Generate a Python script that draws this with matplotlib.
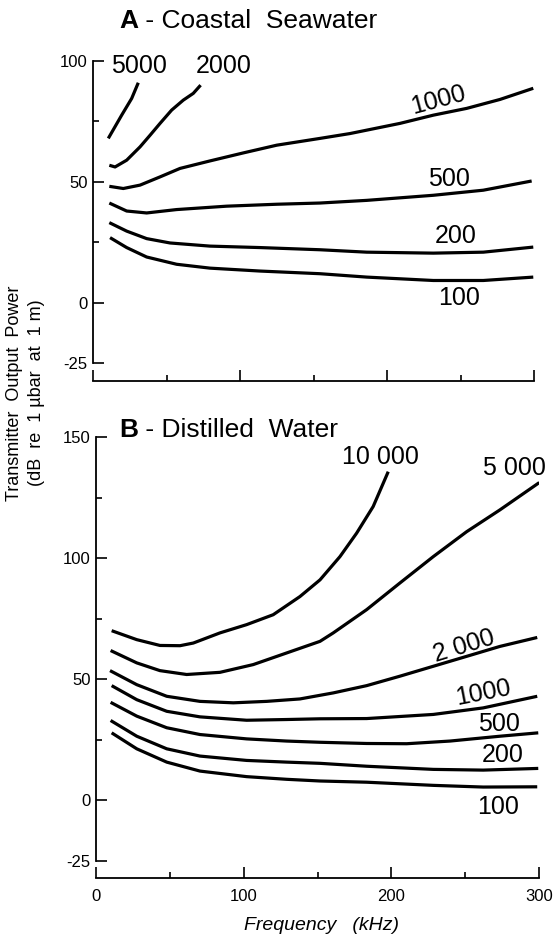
import matplotlib
matplotlib.use("Agg")
import matplotlib.pyplot as plt
from matplotlib.text import Annotation

plt.rcParams["font.family"] = ["Liberation Sans", "DejaVu Sans"]

# ---- Panel A: coastal seawater (curves labelled by range, m) ----
a_5000_x = [10.2, 19.3, 26.1, 30.6]
a_5000_y = [67.9, 77.5, 84.4, 90.9]
a_2000_x = [10.9, 14.8, 22.7, 31.8, 38.6, 45.4, 53.3, 61.2, 68.0, 73.0]
a_2000_y = [56.8, 56.1, 58.9, 64.4, 69.2, 74.1, 79.6, 83.7, 86.5, 89.9]
a_1000_x = [10.9, 20.4, 31.8, 45.4, 59.0, 79.4, 102.0, 124.8, 154.2, 174.6,
            208.6, 231.3, 254.0, 276.7, 299.3]
a_1000_y = [48.1, 47.2, 48.6, 52.0, 55.5, 58.6, 61.9, 65.1, 67.9, 69.9,
            74.1, 77.5, 80.3, 84.0, 88.6]
a_500_x = [10.9, 22.7, 36.3, 56.7, 90.7, 124.8, 154.2, 186.0, 231.3, 265.3, 298.2]
a_500_y = [41.2, 37.9, 37.1, 38.5, 39.9, 40.7, 41.2, 42.3, 44.4, 46.5, 50.3]
a_200_x = [10.9, 22.7, 36.3, 52.2, 79.4, 113.4, 154.2, 186.0, 231.3, 265.3, 299.3]
a_200_y = [33.1, 29.6, 26.5, 24.7, 23.4, 22.8, 21.9, 20.9, 20.5, 20.9, 23.0]
a_100_x = [11.4, 22.7, 36.3, 56.7, 79.4, 113.4, 154.2, 186.0, 231.3, 265.3, 299.3]
a_100_y = [26.9, 22.8, 18.9, 15.9, 14.3, 13.1, 12.0, 10.6, 9.2, 9.2, 10.6]

# ---- Panel B: distilled water ----
b_10000_x = [10.6, 27.6, 43.3, 56.9, 65.9, 84.0, 102.0, 120.0, 138.1, 151.7,
             165.2, 176.5, 187.7, 197.9]
b_10000_y = [70.1, 66.4, 64.0, 63.9, 65.0, 69.2, 72.6, 76.7, 84.2, 91.1,
             100.7, 110.4, 121.4, 135.8]
b_5000_x = [9.9, 27.6, 43.3, 61.4, 84.0, 106.5, 129.1, 151.7, 160.7, 183.3,
            205.8, 228.4, 251.0, 273.5, 300.2]
b_5000_y = [61.9, 56.8, 53.6, 52.0, 52.9, 56.1, 60.9, 65.7, 69.2, 78.8,
            89.8, 100.7, 111.0, 120.0, 131.3]
b_2000_x = [9.5, 27.6, 47.9, 70.4, 93.0, 115.6, 138.1, 160.7, 183.3, 205.8,
            228.4, 251.0, 273.5, 298.8]
b_2000_y = [53.6, 47.8, 43.0, 40.9, 40.3, 40.9, 41.9, 44.4, 47.4, 51.3,
            55.4, 59.5, 63.6, 67.3]
b_1000_x = [10.6, 27.6, 47.9, 70.4, 102.0, 129.1, 151.7, 183.3, 228.4, 262.2, 298.8]
b_1000_y = [47.4, 41.6, 36.8, 34.5, 33.1, 33.4, 33.7, 33.8, 35.5, 38.2, 43.0]
b_500_x = [9.9, 27.6, 47.9, 70.4, 102.0, 129.1, 151.7, 183.3, 210.4, 239.7, 273.5, 299.5]
b_500_y = [40.5, 34.8, 30.0, 27.2, 25.4, 24.5, 24.0, 23.5, 23.4, 24.5, 26.5, 27.9]
b_200_x = [9.9, 27.6, 47.9, 70.4, 102.0, 129.1, 151.7, 183.3, 228.4, 262.2, 299.5]
b_200_y = [33.0, 26.5, 21.3, 18.3, 16.5, 15.8, 15.3, 14.1, 12.8, 12.5, 13.2]
b_100_x = [10.6, 27.6, 47.9, 70.4, 102.0, 129.1, 151.7, 183.3, 228.4, 262.2, 298.8]
b_100_y = [27.9, 21.3, 15.8, 12.1, 9.8, 8.7, 8.0, 7.5, 6.2, 5.5, 5.6]

a_curves = [(a_5000_x, a_5000_y), (a_2000_x, a_2000_y), (a_1000_x, a_1000_y),
            (a_500_x, a_500_y), (a_200_x, a_200_y), (a_100_x, a_100_y)]
b_curves = [(b_10000_x, b_10000_y), (b_5000_x, b_5000_y), (b_2000_x, b_2000_y),
            (b_1000_x, b_1000_y), (b_500_x, b_500_y), (b_200_x, b_200_y),
            (b_100_x, b_100_y)]

# curve labels: text, x, y, rotation
a_labels = [("5000", 31, 97.9, 0), ("2000", 88.8, 97.9, 0), ("1000", 235, 83.6, 15),
            ("500", 242.2, 51.3, 0), ("200", 246.4, 27.5, 0), ("100", 248.6, 2.1, 0)]
b_labels = [("10 000", 192.3, 142, 0), ("5 000", 283.3, 137.5, 0),
            ("2 000", 249.2, 63.6, 17), ("1000", 262.2, 44.4, 11),
            ("500", 273.2, 31.7, 0), ("200", 275.4, 18.6, 0), ("100", 272.6, -2.7, 0)]

W, H = 554, 934
fig = plt.figure(figsize=(W / 100, H / 100), dpi=100)
axA = fig.add_axes([93.3 / W, 1 - 380.7 / H, 441 / W, 320 / H])
axB = fig.add_axes([96 / W, 1 - 878.3 / H, 443 / W, 441 / H])


def style_axis(ax, ymax, yticks, yminor, show_xlabels):
    ax.set_xlim(0, 300)
    ax.set_ylim(-32.2, ymax)
    for s in ("top", "right"):
        ax.spines[s].set_visible(False)
    ax.spines["left"].set_bounds(-25, ymax)
    ax.spines["left"].set_linewidth(1.3)
    ax.spines["bottom"].set_linewidth(1.3)
    ax.set_yticks(yticks)
    ax.set_yticklabels([str(v) for v in yticks])
    ax.set_yticks(yminor, minor=True)
    ax.set_xticks([0, 100, 200, 300])
    ax.set_xticks([50, 150, 250], minor=True)
    ax.tick_params(which="major", direction="in", length=8, width=1.2,
                   labelsize=12, pad=4)
    ax.tick_params(which="minor", direction="in", length=4.5, width=1.2)
    ax.tick_params(axis="x", which="major", pad=8, labelbottom=show_xlabels)


style_axis(axA, 100, [-25, 0, 50, 100], [25, 75], False)
style_axis(axB, 150, [-25, 0, 50, 100, 150], [25, 75, 125], True)

for ax, curves, labels in ((axA, a_curves, a_labels), (axB, b_curves, b_labels)):
    for xs, ys in curves:
        ax.plot(xs, ys, color="black", linewidth=2.3, solid_capstyle="butt")
    for txt, x, y, rot in labels:
        ax.text(x, y, txt, fontsize=18, ha="center", va="center",
                rotation=rot, rotation_mode="anchor")

# panel titles: bold letter followed by plain text on the same baseline
for letter, rest, ytop in (("A", " - Coastal  Seawater", 28), ("B", " - Distilled  Water", 437)):
    t = fig.text(119 / W, 1 - ytop / H, letter, fontsize=19, fontweight="bold",
                 va="baseline")
    fig.add_artist(Annotation(rest, xy=(1, 0), xycoords=t, va="bottom",
                              ha="left", fontsize=19))

# shared y label and x label
fig.text(15 / W, 1 - 393 / H, "Transmitter  Output  Power", rotation=90,
         fontsize=13, ha="center", va="center")
fig.text(37 / W, 1 - 393 / H, "(dB  re  1 \u00b5bar  at  1 m)", rotation=90,
         fontsize=13, ha="center", va="center")
fig.text(321 / W, 1 - 925 / H, "Frequency   (kHz)", fontsize=14, style="italic",
         ha="center", va="center")

fig.savefig("out.png", dpi=100)
